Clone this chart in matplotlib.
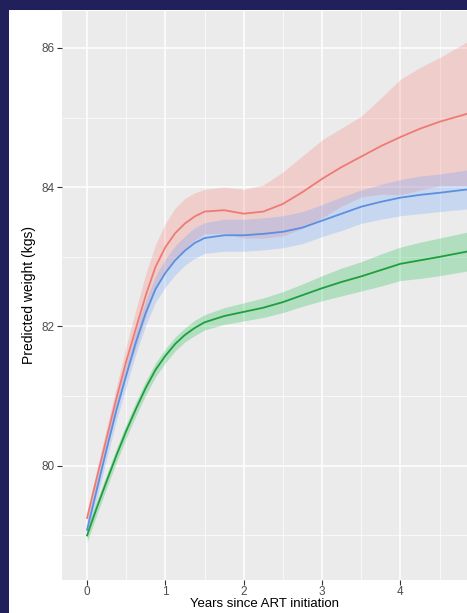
import numpy as np
import matplotlib
matplotlib.use("Agg")
import matplotlib.pyplot as plt
from matplotlib.patches import Rectangle

plt.rcParams["font.family"] = ["Liberation Sans", "DejaVu Sans"]

# years since ART initiation
years = [0, 0.125, 0.25, 0.375, 0.5, 0.625, 0.75, 0.875, 1.0, 1.125, 1.25, 1.375, 1.5,
         1.75, 2.0, 2.25, 2.5, 2.75, 3.0, 3.25, 3.5, 3.75, 4.0, 4.25, 4.5, 4.87]

# predicted weight (kg), top / middle / bottom group
red_fit = [79.25, 79.83, 80.4, 80.97, 81.5, 81.98, 82.45, 82.86, 83.14, 83.34, 83.48, 83.58, 83.65,
           83.67, 83.62, 83.65, 83.76, 83.93, 84.12, 84.29, 84.44, 84.59, 84.72, 84.84, 84.94, 85.06]
red_hi = [79.35, 79.95, 80.55, 81.14, 81.72, 82.25, 82.76, 83.18, 83.48, 83.7, 83.84, 83.92, 83.97,
          84.0, 83.97, 84.03, 84.22, 84.45, 84.68, 84.85, 85.02, 85.28, 85.55, 85.72, 85.86, 86.1]
red_lo = [79.15, 79.71, 80.25, 80.8, 81.28, 81.71, 82.14, 82.54, 82.8, 82.98, 83.12, 83.24, 83.33,
          83.34, 83.27, 83.27, 83.3, 83.41, 83.56, 83.73, 83.86, 83.9, 83.89, 83.96, 84.02, 84.02]

blue_fit = [79.08, 79.66, 80.24, 80.8, 81.3, 81.78, 82.2, 82.54, 82.77, 82.95, 83.09, 83.2, 83.27,
            83.31, 83.31, 83.33, 83.36, 83.42, 83.52, 83.62, 83.72, 83.79, 83.85, 83.89, 83.92, 83.97]
blue_hi = [79.2, 79.79, 80.38, 80.95, 81.46, 81.95, 82.38, 82.73, 82.97, 83.16, 83.3, 83.42, 83.49,
           83.54, 83.54, 83.56, 83.59, 83.65, 83.75, 83.86, 83.96, 84.04, 84.11, 84.16, 84.19, 84.25]
blue_lo = [78.96, 79.53, 80.1, 80.65, 81.14, 81.61, 82.02, 82.35, 82.57, 82.74, 82.88, 82.98, 83.05,
           83.08, 83.08, 83.1, 83.13, 83.19, 83.29, 83.38, 83.48, 83.54, 83.59, 83.62, 83.65, 83.69]

green_fit = [79.0, 79.4, 79.78, 80.15, 80.5, 80.82, 81.12, 81.38, 81.58, 81.75, 81.88, 81.98, 82.06,
             82.15, 82.21, 82.27, 82.35, 82.45, 82.55, 82.64, 82.72, 82.81, 82.9, 82.95, 83.0, 83.08]
green_hi = [79.1, 79.5, 79.88, 80.25, 80.6, 80.92, 81.22, 81.48, 81.68, 81.85, 81.98, 82.09, 82.17,
            82.27, 82.34, 82.41, 82.5, 82.61, 82.73, 82.84, 82.93, 83.04, 83.14, 83.21, 83.27, 83.36]
green_lo = [78.9, 79.3, 79.68, 80.05, 80.4, 80.72, 81.02, 81.28, 81.48, 81.65, 81.78, 81.87, 81.95,
            82.03, 82.08, 82.13, 82.2, 82.29, 82.37, 82.44, 82.51, 82.58, 82.66, 82.69, 82.73, 82.8]

x_ticks = [0, 1, 2, 3, 4]
y_ticks = [80, 82, 84, 86]

W, H = 467, 613
fig = plt.figure(figsize=(W / 100, H / 100), dpi=100)
fig.patch.set_facecolor("#22205a")
fig.patches.append(Rectangle((9 / W, 0), 1, (H - 10) / H, transform=fig.transFigure,
                             facecolor="white", edgecolor="none", zorder=-10))

ax = fig.add_axes([62 / W, (H - 580) / H, (W - 62) / W, (580 - 11) / H])
ax.set_facecolor("#EBEBEB")
for s in ax.spines.values():
    s.set_visible(False)

ax.set_xlim(-0.32, 4.85)
ax.set_ylim(78.36, 86.53)
ax.set_xticks(x_ticks)
ax.set_yticks(y_ticks)
ax.set_xticks(np.arange(0.5, 4.6, 1.0), minor=True)
ax.set_yticks([79, 81, 83, 85], minor=True)
ax.grid(which="major", color="white", lw=1.1)
ax.grid(which="minor", color="white", lw=0.5)
ax.set_axisbelow(True)
ax.tick_params(which="major", length=3.5, color="#333333", labelsize=8.5, labelcolor="#4d4d4d", pad=2)
ax.tick_params(axis="x", pad=1)
ax.tick_params(which="minor", length=0)

groups = [
    (red_fit, red_lo, red_hi, "#F8766D", "#EE7B73"),
    (blue_fit, blue_lo, blue_hi, "#619CFF", "#5B8FE0"),
    (green_fit, green_lo, green_hi, "#00BA38", "#1E9E3E"),
]
for fit, lo, hi, fill_col, line_col in groups:
    ax.fill_between(years, lo, hi, color=fill_col, alpha=0.25, lw=0)
for fit, lo, hi, fill_col, line_col in groups:
    ax.plot(years, fit, color=line_col, lw=1.3)

ax.set_ylabel("Predicted weight (kgs)", fontsize=10, labelpad=4)
ax.set_xlabel("Years since ART initiation", fontsize=9.5, labelpad=0)

fig.savefig("out.png", dpi=100, facecolor=fig.get_facecolor())
